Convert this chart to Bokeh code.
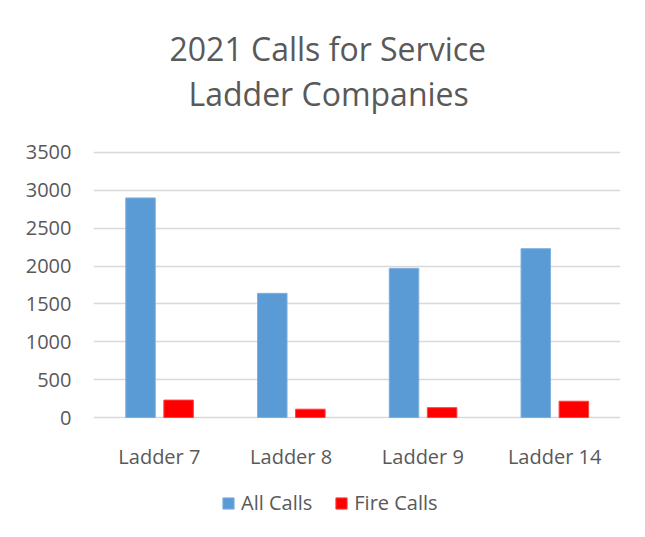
from bokeh.plotting import figure
from bokeh.layouts import column
from bokeh.models import FactorRange, Range1d, FixedTicker, Title, Legend, LegendItem
from bokeh.transform import dodge
from bokeh.embed import file_html
from bokeh.resources import INLINE

categories = ["Ladder 7", "Ladder 8", "Ladder 9", "Ladder 14"]
all_calls = [2900, 1640, 1970, 2230]
fire_calls = [230, 110, 130, 215]
y_ticks = [0, 500, 1000, 1500, 2000, 2500, 3000, 3500]
series_names = ["All Calls", "Fire Calls"]
title_lines = ["2021 Calls for Service", "Ladder Companies"]
series_colors = ["#5B9BD5", "#FF0000"]
edge_colors = ["#7FB0DE", "#FF4040"]

FONT = "Open Sans"
GREY = "#595959"

p = figure(x_range=FactorRange(*categories), y_range=Range1d(-26.4, 3526.4),
           frame_width=527, frame_height=269, output_backend="svg", toolbar_location=None,
           min_border_left=93, min_border_right=9, min_border_top=150, min_border_bottom=52)
p.outline_line_color = None

data = dict(cat=categories, all=all_calls, fire=fire_calls)
p.vbar(x=dodge("cat", -0.143, range=p.x_range), top="all", width=0.224, source=data,
       fill_color=series_colors[0], line_color=edge_colors[0], line_width=1)
p.vbar(x=dodge("cat", 0.146, range=p.x_range), top="fire", width=0.224, source=data,
       fill_color=series_colors[1], line_color=edge_colors[1], line_width=1)

p.yaxis.ticker = FixedTicker(ticks=y_ticks)
p.yaxis.axis_line_color = None
p.yaxis.major_tick_line_color = None
p.yaxis.minor_tick_line_color = None
p.yaxis.major_tick_out = 0
p.yaxis.major_tick_in = 0
p.yaxis.major_label_standoff = 22
p.yaxis.major_label_text_font = FONT
p.yaxis.major_label_text_font_size = "20px"
p.yaxis.major_label_text_color = GREY

p.xaxis.axis_line_color = None
p.xaxis.major_tick_line_color = None
p.xaxis.minor_tick_line_color = None
p.xaxis.major_tick_out = 0
p.xaxis.major_tick_in = 0
p.xaxis.major_label_standoff = 23
p.xaxis.major_label_text_font = FONT
p.xaxis.major_label_text_font_size = "20px"
p.xaxis.major_label_text_color = GREY

p.xgrid.grid_line_color = None
p.ygrid.ticker = FixedTicker(ticks=y_ticks)
p.ygrid.grid_line_color = "#D9D9D9"
p.ygrid.grid_line_width = 1.5

# spacer between the title and the plot area
spacer = Title(text=" ", text_font=FONT, text_font_size="10px", standoff=20)
t2 = Title(text=title_lines[1], align="left", offset=95, text_font=FONT,
           text_font_size="32px", text_color=GREY, text_font_style="normal", standoff=0)
t1 = Title(text=title_lines[0], align="left", offset=76, text_font=FONT,
           text_font_size="32px", text_color=GREY, text_font_style="normal", standoff=0)
p.add_layout(spacer, "above")
p.add_layout(t2, "above")
p.add_layout(t1, "above")

# legend strip below the chart (its frame is aligned with the chart's frame)
pl = figure(width=629, height=50, x_range=Range1d(0, 1), y_range=Range1d(0, 1),
            output_backend="svg", toolbar_location=None, min_border=0,
            x_axis_location=None, y_axis_location=None)
pl.grid.visible = False
pl.outline_line_color = None
# legend keys: hidden renderers, only their legend swatches are shown
k1 = pl.vbar(x=[0.5], top=[1], width=0.1, fill_color=series_colors[0],
             line_color=edge_colors[0], visible=False)
k2 = pl.vbar(x=[0.5], top=[1], width=0.1, fill_color=series_colors[1],
             line_color=edge_colors[1], visible=False)
legend = Legend(items=[LegendItem(label=series_names[0], renderers=[k1]),
                       LegendItem(label=series_names[1], renderers=[k2])],
                orientation="horizontal", location=(128, 6),
                glyph_width=14, glyph_height=14, label_standoff=6, spacing=22,
                padding=0, margin=0, border_line_color=None, background_fill_alpha=0,
                inactive_fill_alpha=0,
                label_text_font=FONT, label_text_font_size="20px", label_text_color=GREY)
pl.add_layout(legend, "center")

layout = column(p, pl, spacing=0)
open("out.html", "w").write(file_html(layout, INLINE))
